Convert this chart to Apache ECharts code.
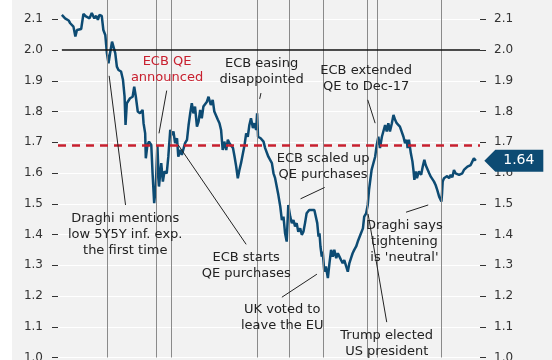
<!DOCTYPE html>
<html><head><meta charset="utf-8">
<script src="https://cdn.jsdelivr.net/npm/echarts@6/dist/echarts.min.js"></script>
<style>
html,body{margin:0;padding:0;background:#fff;}
#bg{position:absolute;left:12px;top:0;width:540px;height:360px;background:#f2f2f2;}
#chart{position:absolute;left:0;top:0;width:552px;height:360px;}
</style></head>
<body><div id="bg"></div><div id="chart"></div>
<script>
// 5y5y inflation swap (EUR)
const dates = [
'2014-04-03','2014-04-13','2014-04-24','2014-04-29','2014-05-04','2014-05-09','2014-05-15','2014-05-20','2014-05-25','2014-06-02',
'2014-06-09','2014-06-17','2014-06-23','2014-06-28','2014-07-05','2014-07-13','2014-07-19','2014-07-24','2014-07-29','2014-08-05',
'2014-08-10','2014-08-16','2014-08-21','2014-08-26','2014-08-31','2014-09-06','2014-09-10','2014-09-16','2014-09-21','2014-09-26',
'2014-10-04','2014-10-10','2014-10-15','2014-10-18','2014-10-22','2014-10-27','2014-11-01','2014-11-09','2014-11-14','2014-11-19',
'2014-11-25','2014-12-02','2014-12-10','2014-12-13','2014-12-18','2014-12-20','2014-12-25','2014-12-30','2015-01-06','2015-01-10',
'2015-01-15','2015-01-20','2015-01-25','2015-01-30','2015-02-06','2015-02-11','2015-02-16','2015-02-23','2015-02-28','2015-03-06',
'2015-03-11','2015-03-16','2015-03-21','2015-03-27','2015-03-31','2015-04-06','2015-04-11','2015-04-16','2015-04-21','2015-04-27',
'2015-05-02','2015-05-07','2015-05-12','2015-05-17','2015-05-22','2015-05-28','2015-06-02','2015-06-07','2015-06-12','2015-06-17',
'2015-06-22','2015-06-28','2015-07-03','2015-07-06','2015-07-10','2015-07-16','2015-07-21','2015-07-27','2015-08-01','2015-08-06',
'2015-08-11','2015-08-16','2015-08-21','2015-08-27','2015-09-01','2015-09-06','2015-09-11','2015-09-17','2015-09-22','2015-09-27',
'2015-10-02','2015-10-07','2015-10-12','2015-10-18','2015-10-23','2015-10-28','2015-11-02','2015-11-07','2015-11-12','2015-11-18',
'2015-11-23','2015-11-28','2015-12-01','2015-12-03','2015-12-04','2015-12-12','2015-12-21','2015-12-26','2015-12-31','2016-01-05',
'2016-01-10','2016-01-16','2016-01-21','2016-01-26','2016-01-31','2016-02-05','2016-02-11','2016-02-16','2016-02-21','2016-02-26',
'2016-03-02','2016-03-07','2016-03-13','2016-03-18','2016-03-23','2016-03-28','2016-04-02','2016-04-07','2016-04-13','2016-04-18',
'2016-04-23','2016-04-28','2016-05-03','2016-05-11','2016-05-19','2016-05-27','2016-06-01','2016-06-05','2016-06-09','2016-06-12',
'2016-06-15','2016-06-19','2016-06-22','2016-06-27','2016-07-02','2016-07-08','2016-07-13','2016-07-18','2016-07-23','2016-07-28',
'2016-08-03','2016-08-08','2016-08-13','2016-08-18','2016-08-23','2016-08-28','2016-09-03','2016-09-08','2016-09-13','2016-09-18',
'2016-09-23','2016-09-28','2016-10-04','2016-10-09','2016-10-14','2016-10-19','2016-10-25','2016-10-29','2016-11-04','2016-11-09',
'2016-11-13','2016-11-17','2016-11-21','2016-11-26','2016-12-02','2016-12-07','2016-12-12','2016-12-17','2016-12-23','2016-12-28',
'2017-01-02','2017-01-07','2017-01-12','2017-01-17','2017-01-23','2017-01-28','2017-02-02','2017-02-07','2017-02-12','2017-02-17',
'2017-02-23','2017-02-28','2017-03-05','2017-03-10','2017-03-13','2017-03-17','2017-03-23','2017-03-28','2017-03-31','2017-04-03',
'2017-04-07','2017-04-11','2017-04-17','2017-04-24','2017-04-29','2017-05-04','2017-05-08','2017-05-13','2017-05-19','2017-05-24',
'2017-05-29','2017-06-03','2017-06-08','2017-06-13','2017-06-19','2017-06-26','2017-06-28','2017-06-30','2017-07-04','2017-07-09',
'2017-07-14','2017-07-20','2017-07-25','2017-07-30','2017-08-04','2017-08-09','2017-08-14','2017-08-20','2017-08-25','2017-08-30',
'2017-09-04','2017-09-10','2017-09-15','2017-09-20','2017-09-25','2017-09-30','2017-10-05','2017-10-11'
];
const values = [
2.114,2.103,2.096,2.087,2.092,2.076,2.044,2.065,2.060,2.068,
2.117,2.109,2.114,2.103,2.120,2.103,2.111,2.098,2.114,2.111,
2.065,2.049,1.990,1.957,1.990,2.027,2.033,1.990,1.946,1.935,
1.930,1.903,1.848,1.756,1.827,1.821,1.843,1.848,1.881,1.848,
1.800,1.794,1.805,1.762,1.729,1.648,1.691,1.702,1.691,1.599,
1.502,1.556,1.691,1.556,1.632,1.572,1.605,1.599,1.653,1.740,
1.724,1.735,1.697,1.713,1.653,1.675,1.659,1.664,1.697,1.708,
1.756,1.794,1.827,1.794,1.816,1.751,1.767,1.805,1.778,1.816,
1.821,1.832,1.848,1.854,1.821,1.838,1.800,1.794,1.773,1.762,
1.740,1.675,1.702,1.675,1.708,1.697,1.702,1.681,1.653,1.621,
1.583,1.610,1.632,1.664,1.691,1.729,1.718,1.756,1.778,1.746,
1.762,1.740,1.794,1.800,1.718,1.713,1.702,1.681,1.675,1.653,
1.659,1.632,1.599,1.583,1.556,1.529,1.491,1.447,1.458,1.404,
1.377,1.496,1.458,1.437,1.447,1.426,1.437,1.409,1.420,1.399,
1.409,1.437,1.469,1.480,1.480,1.480,1.474,1.437,1.393,1.404,
1.361,1.328,1.344,1.279,1.296,1.258,1.307,1.350,1.328,1.350,
1.323,1.339,1.328,1.317,1.307,1.317,1.296,1.279,1.307,1.323,
1.339,1.350,1.361,1.377,1.372,1.404,1.420,1.458,1.469,1.496,
1.545,1.578,1.610,1.605,1.653,1.691,1.718,1.681,1.718,1.713,
1.756,1.735,1.762,1.735,1.762,1.789,1.773,1.762,1.767,1.751,
1.745,1.718,1.697,1.708,1.681,1.708,1.664,1.637,1.610,1.578,
1.605,1.583,1.605,1.594,1.621,1.643,1.626,1.632,1.599,1.588,
1.580,1.572,1.561,1.545,1.523,1.507,1.534,1.572,1.583,1.578,
1.590,1.583,1.594,1.586,1.610,1.599,1.605,1.594,1.588,1.599,
1.610,1.605,1.621,1.616,1.626,1.637,1.648,1.640
];
const yTickValues = [1.0,1.1,1.2,1.3,1.4,1.5,1.6,1.7,1.8,1.9,2.0,2.1];
const eventDates = ['2014-08-22','2015-01-22','2015-03-09','2015-12-03','2016-03-10','2016-06-23','2016-11-08','2016-12-08','2017-06-27'];
const refLevel = 1.69;
const parLevel = 2.0;
const xMin = '2014-03-22', xMax = '2017-10-24';
const yMin = 1.0, yMax = 2.2;
const annotations = [
  {text:'Draghi mentions\nlow 5Y5Y inf. exp.\nthe first time', at:['2014-10-17',1.400], color:'#222'},
  {text:'ECB QE\nannounced', at:['2015-02-24',1.935], color:'#c8202f'},
  {text:'ECB easing\ndisappointed', at:['2015-12-15',1.929], color:'#222'},
  {text:'ECB extended\nQE to Dec-17', at:['2016-11-04',1.906], color:'#222'},
  {text:'ECB scaled up\nQE purchases', at:['2016-06-23',1.620], color:'#222'},
  {text:'ECB starts\nQE purchases', at:['2015-10-28',1.298], color:'#222'},
  {text:'UK voted to\nleave the EU', at:['2016-02-17',1.129], color:'#222'},
  {text:'Trump elected\nUS president', at:['2017-01-07',1.045], color:'#222'},
  {text:"Draghi says\ntightening\nis 'neutral'", at:['2017-03-03',1.376], color:'#222'}
];
const leaders = [
  [['2014-08-28',1.916],['2014-10-18',1.496]],
  [['2015-02-23',1.868],['2015-01-30',1.729]],
  [['2015-12-13',1.860],['2015-12-09',1.841]],
  [['2016-11-09',1.838],['2016-12-02',1.762]],
  [['2016-04-14',1.516],['2016-06-28',1.553]],
  [['2015-03-31',1.691],['2015-10-28',1.368]],
  [['2016-02-16',1.196],['2016-06-04',1.271]],
  [['2016-11-10',1.467],['2017-01-07',1.115]],
  [['2017-03-08',1.4725],['2017-05-16',1.496]]
];

const FONT = 'DejaVu Sans';
const NAVY = '#0d4b73';
const last = values.length - 1;
const chart = echarts.init(document.getElementById('chart'), null, {renderer:'canvas'});

const isTick = v => yTickValues.some(t => Math.abs(t - v) < 1e-6);
const yAxisBase = {
  type:'value', min:yMin, max:yMax, interval:0.1,
  axisLine:{show:false},
  axisTick:{show:true, length:6, customValues:yTickValues, lineStyle:{color:'#333', width:1}},
  axisLabel:{fontFamily:FONT, fontSize:12, color:'#333', customValues:yTickValues,
    formatter:v => isTick(v) ? v.toFixed(1) : ''}
};

chart.setOption({
  animation:false,
  backgroundColor:'transparent',
  grid:{left:58, right:72, top:-11.5, bottom:2.5, containLabel:false, outerBoundsMode:'none'},
  xAxis:{type:'time', min:xMin, max:xMax, show:true,
    axisLine:{show:false}, axisTick:{show:false}, axisLabel:{show:false}, splitLine:{show:false}},
  yAxis:[
    Object.assign({}, yAxisBase, {position:'left',
      axisLabel:Object.assign({}, yAxisBase.axisLabel, {margin:15}),
      splitLine:{show:true, lineStyle:{color:'#ffffff', width:1.2}}}),
    Object.assign({}, yAxisBase, {position:'right',
      axisLabel:Object.assign({}, yAxisBase.axisLabel, {margin:14}),
      splitLine:{show:false}})
  ],
  series:[
    {
      type:'line', data:[], z:1, silent:true,
      markLine:{
        silent:true, symbol:['none','none'], label:{show:false}, animation:false,
        data:[
          ...eventDates.map(d => ({xAxis:d, lineStyle:{color:'#8a8a8a', width:1, type:'solid'}})),
          {yAxis:refLevel, lineStyle:{color:'#c8202f', width:2.5, type:[8,6]}},
          [{coord:[dates[0], parLevel], lineStyle:{color:'#111', width:1.5, type:'solid'}},
           {coord:[xMax, parLevel], lineStyle:{color:'#111', width:1.5, type:'solid'}}]
        ]
      }
    },
    {
      type:'line', z:3, silent:true, showSymbol:false, symbol:'none',
      data: dates.map((d,i) => [d, values[i]]),
      lineStyle:{color:NAVY, width:2.5},
      markPoint:{
        silent:true,
        symbol:'path://M0,11L11,0L59,0L59,22L11,22Z',
        symbolSize:[59,22], symbolOffset:[38,0], symbolKeepAspect:false,
        itemStyle:{color:NAVY},
        label:{show:true, position:'inside', offset:[5,0], color:'#fff', fontFamily:FONT, fontSize:14,
          formatter:p => Number(p.value).toFixed(2)},
        data:[{coord:[dates[last], values[last]], value:values[last]}]
      }
    },
    {
      type:'line', data:[], z:4, silent:true,
      markLine:{
        silent:true, symbol:['none','none'], label:{show:false}, animation:false,
        lineStyle:{color:'#222', width:1, type:'solid'},
        data: leaders.map(l => [{coord:l[0]}, {coord:l[1]}])
      },
      markPoint:{
        silent:true, symbol:'circle', symbolSize:1, itemStyle:{color:'rgba(0,0,0,0)'},
        label:{show:true, position:'inside', formatter:'{b}', fontFamily:FONT, fontSize:13,
          lineHeight:16, align:'center', verticalAlign:'middle'},
        data: annotations.map(a => ({coord:a.at, name:a.text, label:{color:a.color}}))
      }
    }
  ]
});
</script>
</body></html>
